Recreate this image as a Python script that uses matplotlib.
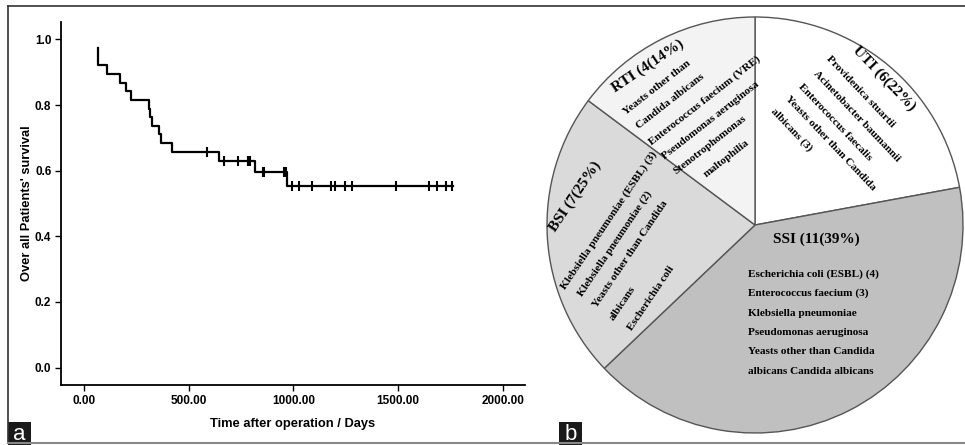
import numpy as np
import matplotlib
matplotlib.use("Agg")
import matplotlib.pyplot as plt
from matplotlib.patches import Rectangle
from matplotlib.lines import Line2D

# Panel a : Kaplan-Meier curve
km_time = [65, 65, 68, 111, 172, 199, 224, 312, 316, 325, 358, 366, 419, 646, 815, 970, 1760]
km_surv = [0.974, 0.947, 0.921, 0.895, 0.868, 0.842, 0.816, 0.789, 0.763, 0.737,
           0.711, 0.684, 0.658, 0.631, 0.597, 0.552, 0.552]
censor_time = [586, 667, 737, 782, 793, 857, 859, 955, 965, 992, 1028, 1087,
               1180, 1199, 1246, 1278, 1490, 1649, 1684, 1727, 1756]
x_ticks = [0, 500, 1000, 1500, 2000]
y_ticks = [0.0, 0.2, 0.4, 0.6, 0.8, 1.0]

# Panel b : infections pie
inf_names = ["UTI", "SSI", "BSI", "RTI"]
inf_counts = [6, 11, 7, 4]
inf_pct = [22, 39, 25, 14]
wedge_share = [22.1, 40.8, 22.3, 14.8]   # slice sizes as drawn
wedge_colors = ["#ffffff", "#c0c0c0", "#dadada", "#f3f3f3"]

uti_orgs = ["Providenica stuartii", "Acinetobacter baumannii", "Enterococcus faecalis",
            "Yeasts other than Candida", "albicans (3)"]
ssi_orgs = ["Escherichia coli (ESBL) (4)", "Enterococcus faecium (3)", "Klebsiella pneumoniae",
            "Pseudomonas aeruginosa", "Yeasts other than Candida", "albicans Candida albicans"]
bsi_orgs = ["Klebsiella pneumoniae (ESBL) (3)", "Klebsiella pneumoniae (2)",
            "Yeasts other than Candida", "albicans", "Escherichia coli"]
rti_orgs = ["Yeasts other than", "Candida albicans", "Enterococcus faecium (VRE)",
            "Pseudomonas aeruginosa", "Stenotrophomonas", "maltophilia"]

W, H = 965, 445
fig = plt.figure(figsize=(W / 100, H / 100), dpi=100)
fig.patch.set_facecolor("white")

sans = ["Liberation Sans", "DejaVu Sans"]
serif = ["Liberation Serif", "DejaVu Serif"]

# ---- panel a
ax = fig.add_axes([61 / W, 1 - 385 / H, (525 - 61) / W, (385 - 22) / H])
ax.step(km_time, km_surv, where="post", color="black", lw=1.6)
t = np.array(km_time)
s = np.array(km_surv)
idx = np.searchsorted(t, censor_time, side="right") - 1
ax.plot(censor_time, s[idx], ls="none", marker="|", ms=7, mew=1.5, color="black")

ax.set_xlim(-110, 2106)
ax.set_ylim(-0.053, 1.053)
ax.set_xticks(x_ticks)
ax.set_xticklabels(["%.2f" % v for v in x_ticks])
ax.set_yticks(y_ticks)
ax.set_yticklabels(["%.1f" % v for v in y_ticks])
for sp in ["top", "right"]:
    ax.spines[sp].set_visible(False)
for sp in ["left", "bottom"]:
    ax.spines[sp].set_linewidth(1.3)
ax.tick_params(direction="out", length=4, width=1, pad=3)
for lab in ax.get_xticklabels() + ax.get_yticklabels():
    lab.set_family(sans)
    lab.set_fontweight("bold")
    lab.set_fontsize(8.5)
ax.set_xlabel("Time after operation / Days", family=sans, fontweight="bold", fontsize=9.3, labelpad=8)
ax.set_ylabel("Over all Patients' survival", family=sans, fontweight="bold", fontsize=9.3, labelpad=1)

# ---- panel b
CX, CY, R = 755, 225, 208
pax = fig.add_axes([(CX - R) / W, (H - CY - R) / H, 2 * R / W, 2 * R / H])
pax.pie(wedge_share, colors=wedge_colors, startangle=90, counterclock=False, radius=1,
        wedgeprops=dict(edgecolor="#555555", linewidth=1))
pax.set_xlim(-1, 1)
pax.set_ylim(-1, 1)
pax.axis("off")


def px(x, y):
    return (x - CX) / R, (CY - y) / R


headers = ["%s (%d(%d%%)" % (n, c, p) for n, c, p in zip(inf_names, inf_counts, inf_pct)]
hd = dict(family=serif, fontweight="bold", fontsize=11, rotation_mode="anchor", va="center")
bd = dict(family=serif, fontweight="bold", fontsize=8.1, rotation_mode="anchor", va="center")

# UTI
pax.text(*px(855, 48), headers[0], rotation=-46, ha="left", **hd)
uti_start = [(828, 57), (815, 72), (800, 85), (787, 97), (772, 110)]
for (x, y), txt in zip(uti_start, uti_orgs):
    pax.text(*px(x, y), txt, rotation=-46.5, ha="left", **bd)

# SSI
pax.text(*px(816, 239), headers[1], rotation=0, ha="center", **hd)
ssi_y = [274, 293.5, 313, 332.5, 352, 372]
for y, txt in zip(ssi_y, ssi_orgs):
    pax.text(*px(748, y), txt, rotation=0, ha="left", **bd)

# BSI
pax.text(*px(552, 230), headers[2], rotation=56, ha="left", **hd)
bsi_start = [(563, 288), (580, 295), (595, 307), (612, 320), (630, 330)]
for (x, y), txt in zip(bsi_start, bsi_orgs):
    pax.text(*px(x, y), txt, rotation=56, ha="left", **bd)

# RTI
pax.text(*px(613, 89), headers[3], rotation=34, ha="left", **hd)
rti_start = [(624, 113), (637, 127), (650, 143), (663, 157), (675, 172), (705, 175)]
for (x, y), txt in zip(rti_start, rti_orgs):
    pax.text(*px(x, y), txt, rotation=38, ha="left", **bd)

# ---- frame lines and panel letters
def fline(x0, y0, x1, y1, color, lw):
    fig.add_artist(Line2D([x0 / W, x1 / W], [1 - y0 / H, 1 - y1 / H], color=color, lw=lw,
                          transform=fig.transFigure))


fline(8, 6, W, 6, "#333333", 1.2)
fline(8, 6, 8, 443, "#333333", 1.2)
fline(8, 443, W, 443, "#888888", 1.5)

for x0, letter in [(8, "a"), (559, "b")]:
    fig.add_artist(Rectangle((x0 / W, 0), 23 / W, 23 / H, facecolor="#1a1a1a", edgecolor="none",
                             transform=fig.transFigure))
    fig.text((x0 + 11.5) / W, 11 / H, letter, color="white", fontsize=16,
             family=["Liberation Sans", "DejaVu Sans"], ha="center", va="center")

fig.savefig("out.png", dpi=100)
